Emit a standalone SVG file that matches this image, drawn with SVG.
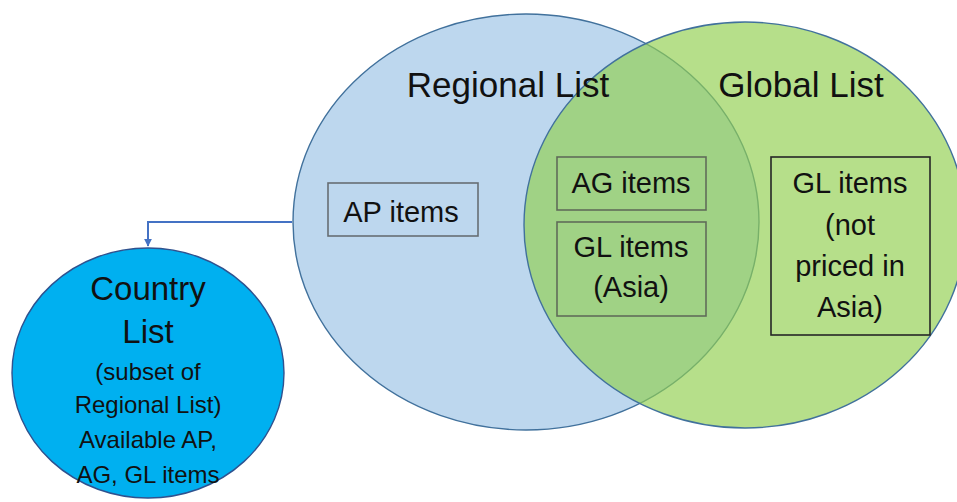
<svg xmlns="http://www.w3.org/2000/svg" width="957" height="502" viewBox="0 0 957 502">
<style>
text{font-family:"Liberation Sans",Arial,sans-serif;fill:#111;text-anchor:middle}
.t35{font-size:35px}
.t29{font-size:29px}
.t33{font-size:33px}
.t24{font-size:24px}
.box{fill:none;stroke:#4a4a4a;stroke-opacity:0.75;stroke-width:1.6}
</style>
<defs>
<marker id="ah" viewBox="0 0 10 10" refX="9" refY="5" markerWidth="4" markerHeight="4" orient="auto" markerUnits="strokeWidth">
<path d="M0,0 L10,5 L0,10 z" fill="#4472C4"/>
</marker>
</defs>
<rect width="957" height="502" fill="#fff"/>
<g id="regional">
<ellipse cx="526" cy="222" rx="233" ry="208" fill="#BDD7EE" stroke="#41719C" stroke-width="1.4"/>
</g>
<g id="global">
<ellipse cx="745" cy="225" rx="221" ry="203" fill="#92D050" fill-opacity="0.67" stroke="#41719C" stroke-width="1.4"/>
</g>
<g id="regional-label"><text class="t35" x="508" y="97">Regional List</text></g>
<g id="global-label"><text class="t35" x="801" y="97">Global List</text></g>
<g id="ap">
<rect class="box" x="328" y="183" width="150" height="53"/>
<text class="t29" x="401" y="222">AP items</text>
</g>
<g id="ag">
<rect class="box" x="557" y="157" width="149" height="53"/>
<text class="t29" x="631" y="193">AG items</text>
</g>
<g id="gl-asia">
<rect class="box" x="557" y="222" width="149" height="94"/>
<text class="t29" x="631" y="257">GL items</text>
<text class="t29" x="631" y="297">(Asia)</text>
</g>
<g id="gl-not">
<rect x="771" y="157" width="159" height="178" fill="none" stroke="#262626" stroke-width="1.6"/>
<text class="t29" x="850" y="193">GL items</text>
<text class="t29" x="850" y="235">(not</text>
<text class="t29" x="850" y="276">priced in</text>
<text class="t29" x="850" y="317">Asia)</text>
</g>
<g id="connectors">
<path d="M292,222 H148 V246" fill="none" stroke="#4472C4" stroke-width="2" marker-end="url(#ah)"/>
</g>
<g id="country">
<ellipse cx="148" cy="373" rx="136" ry="125" fill="#00B0F0" stroke="#2F528F" stroke-width="1.4"/>
<text class="t33" x="148" y="300">Country</text>
<text class="t33" x="148" y="343">List</text>
<text class="t24" x="148" y="380">(subset of</text>
<text class="t24" x="148" y="413">Regional List)</text>
<text class="t24" x="148" y="448">Available AP,</text>
<text class="t24" x="148" y="483">AG, GL items</text>
</g>
</svg>
